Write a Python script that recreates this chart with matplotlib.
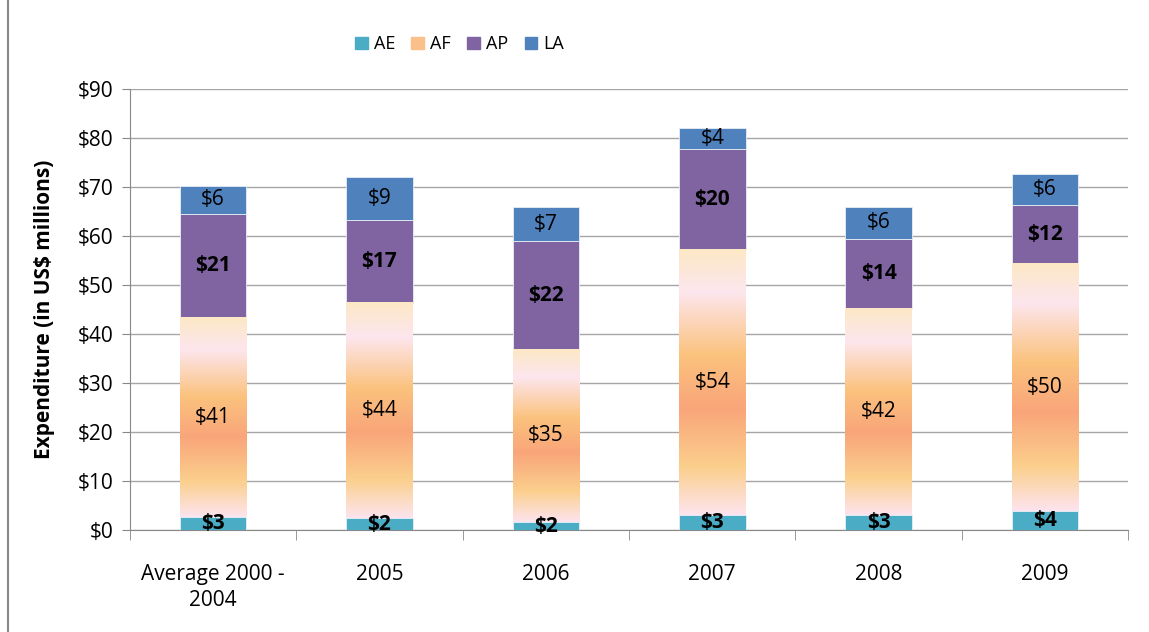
import numpy as np
import matplotlib
matplotlib.use("Agg")
import matplotlib.pyplot as plt
from matplotlib.colors import LinearSegmentedColormap
from matplotlib.patches import Patch
from matplotlib.lines import Line2D

plt.rcParams['font.family'] = ['Open Sans', 'DejaVu Sans']

categories = ["Average 2000 -\n2004", "2005", "2006", "2007", "2008", "2009"]
ae = [2.8, 2.4, 1.7, 3.1, 3.1, 4.0]
af = [40.6, 43.9, 35.2, 54.2, 42.2, 50.4]
ap = [21.2, 17.0, 22.1, 20.4, 14.2, 12.0]
la = [5.6, 8.8, 6.9, 4.4, 6.4, 6.3]
y_ticks = [0, 10, 20, 30, 40, 50, 60, 70, 80, 90]

c_ae = "#4bacc6"
c_ap = "#8064a2"
c_la = "#4f81bd"
af_cmap = LinearSegmentedColormap.from_list("af", [
    (0.0, "#fde4ee"), (0.18, "#fbcf8c"), (0.40, "#f9a57a"),
    (0.60, "#fbc27d"), (0.84, "#fde6ee"), (1.0, "#fce8c6")])

fig = plt.figure(figsize=(11.49, 6.32), dpi=100)
ax = fig.add_axes([0.113, 0.161, 0.869, 0.698])

x = np.arange(len(categories))
w = 0.4
ae_a, af_a, ap_a, la_a = map(np.array, (ae, af, ap, la))

b_ae = ax.bar(x, ae_a, w, color=c_ae, edgecolor="#e8eef4", linewidth=0.6, zorder=3)
b_af = ax.bar(x, af_a, w, bottom=ae_a, color="none", edgecolor="none", zorder=3)
b_ap = ax.bar(x, ap_a, w, bottom=ae_a + af_a, color=c_ap, edgecolor="#e8eef4", linewidth=0.6, zorder=3)
b_la = ax.bar(x, la_a, w, bottom=ae_a + af_a + ap_a, color=c_la, edgecolor="#e8eef4", linewidth=0.6, zorder=3)

# gradient fill for the AF segment
grad = np.linspace(0, 1, 256).reshape(-1, 1)
for p in b_af:
    x0, y0, bw, bh = p.get_x(), p.get_y(), p.get_width(), p.get_height()
    ax.imshow(grad, cmap=af_cmap, origin="lower", aspect="auto",
              extent=(x0, x0 + bw, y0, y0 + bh), zorder=3)

ax.set_xlim(-0.5, len(categories) - 0.5)
ax.set_ylim(0, 90)

def label(bars, vals, bold):
    for p, v in zip(bars, vals):
        ax.text(p.get_x() + p.get_width() / 2, p.get_y() + p.get_height() / 2,
                f"${v:.0f}", ha="center", va="center", fontsize=15,
                fontweight="bold" if bold else "normal", color="black", zorder=5)

label(b_ae, ae, True)
label(b_af, af, False)
label(b_ap, ap, True)
label(b_la, la, False)

ax.set_yticks(y_ticks)
ax.set_yticklabels([f"${t}" for t in y_ticks], fontsize=15)
ax.set_xticks(x)
ax.set_xticklabels(categories, fontsize=15, linespacing=1.35)
ax.set_xticks(np.arange(-0.5, len(categories)), minor=True)
ax.tick_params(axis="x", which="major", length=0, pad=24)
ax.tick_params(axis="x", which="minor", length=7, color="#888888", direction="out")
ax.tick_params(axis="y", length=6, color="#888888", direction="out", pad=6)
ax.grid(axis="y", color="#a6a6a6", linewidth=1, zorder=0)
ax.set_axisbelow(True)
for s in ["top", "right"]:
    ax.spines[s].set_visible(False)
for s in ["left", "bottom"]:
    ax.spines[s].set_color("#888888")

ax.set_ylabel("Expenditure (in US$ millions)", fontsize=15, fontweight="bold", labelpad=16)

handles = [Patch(color=c_ae), Patch(color="#fbc08a"), Patch(color=c_ap), Patch(color=c_la)]
fig.legend(handles, ["AE", "AF", "AP", "LA"], loc="center", bbox_to_anchor=(0.40, 0.93),
           ncol=4, frameon=False, fontsize=13, handlelength=0.7, handleheight=0.7,
           handletextpad=0.35, columnspacing=0.9)

fig.add_artist(Line2D([0.007, 0.007], [0, 1], color="#888888", linewidth=1.5))

fig.savefig("out.png", dpi=100)
